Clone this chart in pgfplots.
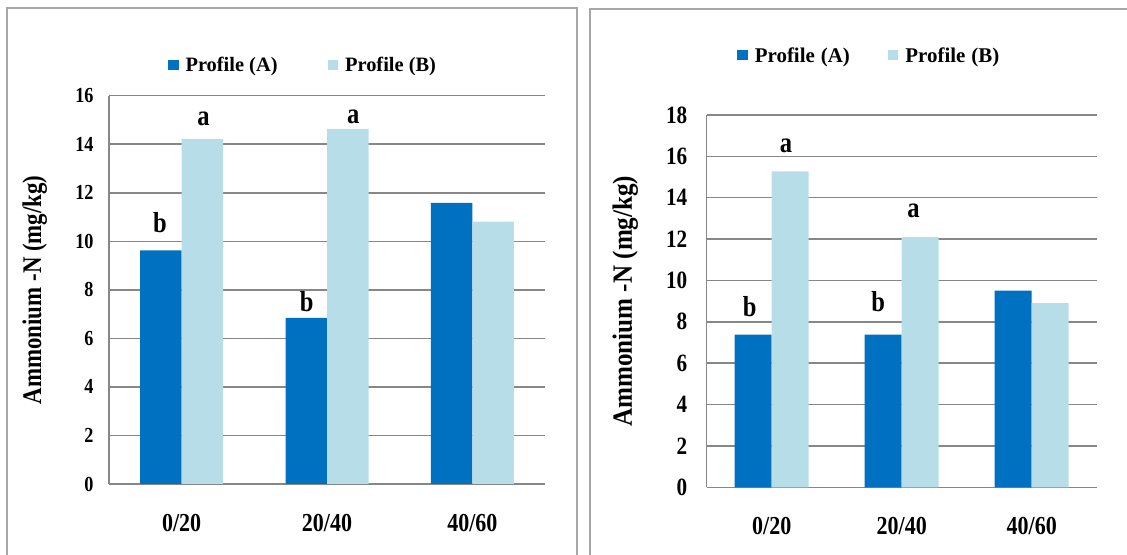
\documentclass[border=0pt]{standalone}
\usepackage{fontspec}
\setmainfont{Liberation Serif}[FakeStretch=0.85]
\newfontfamily\legfont{Liberation Serif}
\newfontfamily\ylfont{Liberation Serif}[FakeStretch=0.9]
\usepackage{pgfplots}
\pgfplotsset{compat=1.18}
\definecolor{profA}{HTML}{0070C0}
\definecolor{profB}{HTML}{B7DEE8}
\definecolor{gridg}{HTML}{878787}
\definecolor{frameg}{HTML}{A6A6A6}
\pgfplotsset{
  myaxis/.style={
    scale only axis,
    ybar=0pt,
    xmin=-0.5, xmax=2.5,
    ymin=0,
    xtick={0,1,2},
    xticklabels={0/20,20/40,40/60},
    axis x line*=bottom, axis y line*=left,
    axis line style={gridg, line width=1.5bp},
    ymajorgrids, grid style={gridg, line width=1.5bp},
    major tick length=0pt,
    /pgf/number format/assume math mode=true,
    ylabel={Ammonium -N (mg/kg)},
    legend columns=2,
    legend cell align=left,
    legend image code/.code={\fill[##1] (0bp,-5bp) rectangle (10.5bp,5.5bp);},
  },
}
\tikzset{lettr/.style={font=\fontsize{29}{29}\selectfont\bfseries, anchor=base, inner sep=0pt}}
\begin{document}
\begin{tikzpicture}
\useasboundingbox (0,0) rectangle (1127bp,555bp);
\draw[frameg, line width=1.5bp] (7bp,0) -- (7bp,547bp) -- (577bp,547bp) -- (577bp,0);
\draw[frameg, line width=1.5bp] (590bp,0) -- (590bp,546bp) -- (1130bp,546bp);

% Left chart
\begin{axis}[myaxis,
  at={(109bp,71bp)}, anchor=south west,
  width=436bp, height=388.3bp,
  ymax=16, ytick={0,2,...,16},
  bar width=41.5bp,
  yticklabel style={font=\fontsize{21.5}{21.5}\selectfont\bfseries, anchor=east, xshift=-12bp},
  xticklabel style={font=\fontsize{26}{26}\selectfont\bfseries, anchor=center, yshift=-39bp},
  ylabel style={font=\fontsize{27}{27}\selectfont\bfseries, at={(axis description cs:-0.170,0.5)}, anchor=center},
  legend style={at={(axis description cs:0.445,1.079)}, anchor=center, draw=none, fill=none,
    font=\legfont\fontsize{20.5}{20.5}\selectfont\bfseries,
    /tikz/every odd column/.append style={column sep=5bp},
    /tikz/every even column/.append style={column sep=48bp}},
]
\addplot[fill=profA, draw=none] coordinates {(0,9.63) (1,6.84) (2,11.58)};
\addplot[fill=profB, draw=none] coordinates {(0,14.22) (1,14.63) (2,10.81)};
\legend{Profile~(A), Profile~(B)}
\node[lettr] at (axis cs:-0.15,10.36) {b};
\node[lettr] at (axis cs:0.15,14.79) {a};
\node[lettr] at (axis cs:0.86,7.10) {b};
\node[lettr] at (axis cs:1.18,14.86) {a};
\end{axis}

% Right chart
\begin{axis}[myaxis,
  at={(706.7bp,67.7bp)}, anchor=south west,
  width=390bp, height=372.3bp,
  ymax=18, ytick={0,2,...,18},
  bar width=37bp,
  yticklabel style={font=\fontsize{25}{25}\selectfont\bfseries, anchor=east, xshift=-16bp},
  xticklabel style={font=\fontsize{26}{26}\selectfont\bfseries, anchor=center, yshift=-38.4bp},
  ylabel style={font=\ylfont\fontsize{28}{28}\selectfont\bfseries, at={(axis description cs:-0.2085,0.5)}, anchor=center},
  legend style={at={(axis description cs:0.417,1.16)}, anchor=center, draw=none, fill=none,
    font=\legfont\fontsize{21}{21}\selectfont\bfseries,
    /tikz/every odd column/.append style={column sep=5bp},
    /tikz/every even column/.append style={column sep=36bp}},
]
\addplot[fill=profA, draw=none] coordinates {(0,7.38) (1,7.38) (2,9.51)};
\addplot[fill=profB, draw=none] coordinates {(0,15.28) (1,12.09) (2,8.91)};
\legend{Profile\hspace{6bp}(A), Profile\hspace{6bp}(B)}
\node[lettr] at (axis cs:-0.17,8.25) {b};
\node[lettr] at (axis cs:0.11,16.19) {a};
\node[lettr] at (axis cs:0.82,8.49) {b};
\node[lettr] at (axis cs:1.09,13.05) {a};
\end{axis}
\end{tikzpicture}
\end{document}
